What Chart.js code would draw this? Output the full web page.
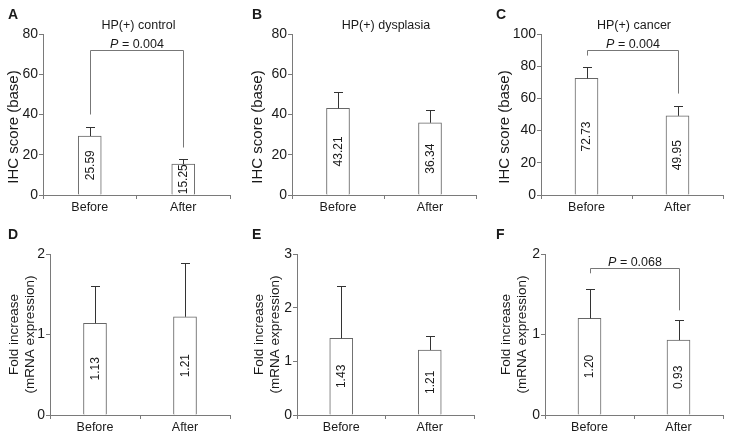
<!DOCTYPE html>
<html>
<head>
<meta charset="utf-8">
<script src="https://cdn.jsdelivr.net/npm/chart.js@4.4.1/dist/chart.umd.min.js"></script>
<style>
  html, body { margin: 0; padding: 0; background: #fff; }
  #fig { position: relative; width: 731px; height: 440px; overflow: hidden; }
  #fig canvas { position: absolute; }
</style>
</head>
<body>
<div id="fig"></div>
<script>
// ---- data ----
const categories = ['Before', 'After'];

const ihcControl = [29.3, 15.4];
const ihcControlErr = [33.9, 17.9];
const ihcControlText = ['25.59', '15.25'];

const ihcDysplasia = [43.1, 35.9];
const ihcDysplasiaErr = [51.0, 42.0];
const ihcDysplasiaText = ['43.21', '36.34'];

const ihcCancer = [72.4, 49.2];
const ihcCancerErr = [79.6, 55.5];
const ihcCancerText = ['72.73', '49.95'];

const mrnaControl = [1.14, 1.22];
const mrnaControlErr = [1.60, 1.89];
const mrnaControlText = ['1.13', '1.21'];

const mrnaDysplasia = [1.43, 1.21];
const mrnaDysplasiaErr = [2.41, 1.47];
const mrnaDysplasiaText = ['1.43', '1.21'];

const mrnaCancer = [1.20, 0.93];
const mrnaCancerErr = [1.57, 1.18];
const mrnaCancerText = ['1.20', '0.93'];

// brackets: [top, left end, right end] in axis units
const bracketA = [72, 40, 23.6];
const bracketC = [90.3, 86.6, 63];
const bracketF = [1.83, 1.76, 1.30];

const FONT = '"Liberation Sans", Arial, Helvetica, sans-serif';
const AXIS = '#7a7a7a';
const TEXT = '#1a1a1a';

// trailing spaces nudge the rotated title down a little, like the original
const ihcTitle = 'IHC score (base)      ';
const mrnaTitle = ['Fold increase', '(mRNA expression)'];

const panels = [
  { letter: 'A', title: 'HP(+) control', x: 0, y: 0, w: 244, left: 43, right: 230,
    values: ihcControl, err: ihcControlErr, text: ihcControlText, max: 80, step: 20,
    yTitle: ihcTitle, titleFont: 15, titlePad: 5, bracket: bracketA, p: '0.004' },
  { letter: 'B', title: 'HP(+) dysplasia', x: 244, y: 0, w: 244, left: 48, right: 232,
    values: ihcDysplasia, err: ihcDysplasiaErr, text: ihcDysplasiaText, max: 80, step: 20,
    yTitle: ihcTitle, titleFont: 15, titlePad: 5 },
  { letter: 'C', title: 'HP(+) cancer', x: 488, y: 0, w: 243, left: 53, right: 235,
    values: ihcCancer, err: ihcCancerErr, text: ihcCancerText, max: 100, step: 20,
    yTitle: ihcTitle, titleFont: 15, titlePad: 8, bracket: bracketC, p: '0.004' },
  { letter: 'D', x: 0, y: 220, w: 244, left: 50, right: 230,
    values: mrnaControl, err: mrnaControlErr, text: mrnaControlText, max: 2, step: 1,
    yTitle: mrnaTitle, titleFont: 13.5, titlePad: 6 },
  { letter: 'E', x: 244, y: 220, w: 244, left: 53, right: 230,
    values: mrnaDysplasia, err: mrnaDysplasiaErr, text: mrnaDysplasiaText, max: 3, step: 1,
    yTitle: mrnaTitle, titleFont: 13.5, titlePad: 7 },
  { letter: 'F', x: 488, y: 220, w: 243, left: 57, right: 235,
    values: mrnaCancer, err: mrnaCancerErr, text: mrnaCancerText, max: 2, step: 1,
    yTitle: mrnaTitle, titleFont: 13.5, titlePad: 10, bracket: bracketF, p: '0.068' }
];

// error bars, value labels, brackets, titles
const decor = {
  id: 'decor',
  afterDatasetsDraw(chart, args, o) {
    const ctx = chart.ctx, ys = chart.scales.y;
    const bars = chart.getDatasetMeta(0).data;
    ctx.save();
    ctx.strokeStyle = '#333';
    ctx.lineWidth = 1;
    bars.forEach((bar, i) => {
      const bx = Math.round(bar.x) + 0.5;
      const top = Math.round(ys.getPixelForValue(o.err[i])) + 0.5;
      ctx.beginPath();
      ctx.moveTo(bx, bar.y);
      ctx.lineTo(bx, top);
      ctx.moveTo(bx - 4.5, top);
      ctx.lineTo(bx + 4.5, top);
      ctx.stroke();
    });
    ctx.fillStyle = TEXT;
    ctx.font = '12px ' + FONT;
    ctx.textAlign = 'center';
    ctx.textBaseline = 'middle';
    bars.forEach((bar, i) => {
      ctx.save();
      ctx.translate(bar.x + 0.5, (bar.y + bar.base) / 2);
      ctx.rotate(-Math.PI / 2);
      ctx.fillText(o.text[i], 0, 0);
      ctx.restore();
    });
    if (o.bracket) {
      const [t, l, r] = o.bracket;
      const x1 = Math.round(bars[0].x) + 0.5, x2 = Math.round(bars[1].x) + 0.5;
      const yt = Math.round(ys.getPixelForValue(t)) + 0.5;
      ctx.strokeStyle = '#777';
      ctx.beginPath();
      ctx.moveTo(x1, ys.getPixelForValue(l));
      ctx.lineTo(x1, yt);
      ctx.lineTo(x2, yt);
      ctx.lineTo(x2, ys.getPixelForValue(r));
      ctx.stroke();
      // "P = 0.004" with italic P
      const rest = ' = ' + o.p;
      ctx.textBaseline = 'alphabetic';
      ctx.textAlign = 'left';
      ctx.font = 'italic 12.5px ' + FONT;
      const wP = ctx.measureText('P').width;
      ctx.font = '12.5px ' + FONT;
      const wR = ctx.measureText(rest).width;
      const sx = (x1 + x2) / 2 - (wP + wR) / 2;
      ctx.font = 'italic 12.5px ' + FONT;
      ctx.fillText('P', sx, yt - 3);
      ctx.font = '12.5px ' + FONT;
      ctx.fillText(rest, sx + wP, yt - 3);
    }
    ctx.restore();
  },
  afterDraw(chart, args, o) {
    const ctx = chart.ctx, a = chart.chartArea;
    ctx.save();
    ctx.fillStyle = TEXT;
    ctx.textBaseline = 'alphabetic';
    ctx.textAlign = 'left';
    ctx.font = 'bold 14px ' + FONT;
    ctx.fillText(o.letter, 8, 19);
    if (o.title) {
      ctx.font = '12.5px ' + FONT;
      ctx.textAlign = 'center';
      ctx.textBaseline = 'middle';
      ctx.fillText(o.title, (a.left + a.right) / 2 + 2, 26);
    }
    ctx.restore();
  }
};

const fig = document.getElementById('fig');
const charts = [];

panels.forEach(p => {
  const cv = document.createElement('canvas');
  cv.width = p.w; cv.height = 220;
  cv.style.left = p.x + 'px';
  cv.style.top = p.y + 'px';
  cv.style.width = p.w + 'px';
  cv.style.height = '220px';
  fig.appendChild(cv);

  charts.push(new Chart(cv.getContext('2d'), {
    type: 'bar',
    data: {
      labels: categories,
      datasets: [{
        data: p.values,
        backgroundColor: '#fff',
        borderColor: '#666',
        borderWidth: 1,
        borderSkipped: 'bottom',
        barThickness: 23
      }]
    },
    options: {
      responsive: false,
      animation: false,
      devicePixelRatio: 1,
      events: [],
      layout: { padding: { left: 0, top: 34, right: p.w - p.right, bottom: 0 } },
      plugins: {
        legend: { display: false },
        tooltip: { enabled: false },
        decor: { letter: p.letter, title: p.title, err: p.err, text: p.text, bracket: p.bracket, p: p.p }
      },
      scales: {
        x: {
          offset: true,
          grid: { offset: true, drawOnChartArea: false, drawTicks: true, tickLength: 4, color: AXIS },
          border: { display: true, color: AXIS },
          ticks: { color: TEXT, font: { family: FONT, size: 12.5 }, padding: 1, maxRotation: 0 },
          afterFit(s) { s.height = 25; }
        },
        y: {
          min: 0, max: p.max,
          grid: { drawOnChartArea: false, drawTicks: true, tickLength: 4, color: AXIS },
          border: { display: true, color: AXIS },
          ticks: { stepSize: p.step, color: TEXT, font: { family: FONT, size: 14 }, padding: 1 },
          title: { display: true, text: p.yTitle, color: TEXT,
                   font: { family: FONT, size: p.titleFont, lineHeight: 1.2 },
                   padding: { top: p.titlePad, bottom: 0 } },
          afterFit(s) { s.width = p.left; }
        }
      }
    },
    plugins: [decor]
  }));
});
</script>
</body>
</html>
